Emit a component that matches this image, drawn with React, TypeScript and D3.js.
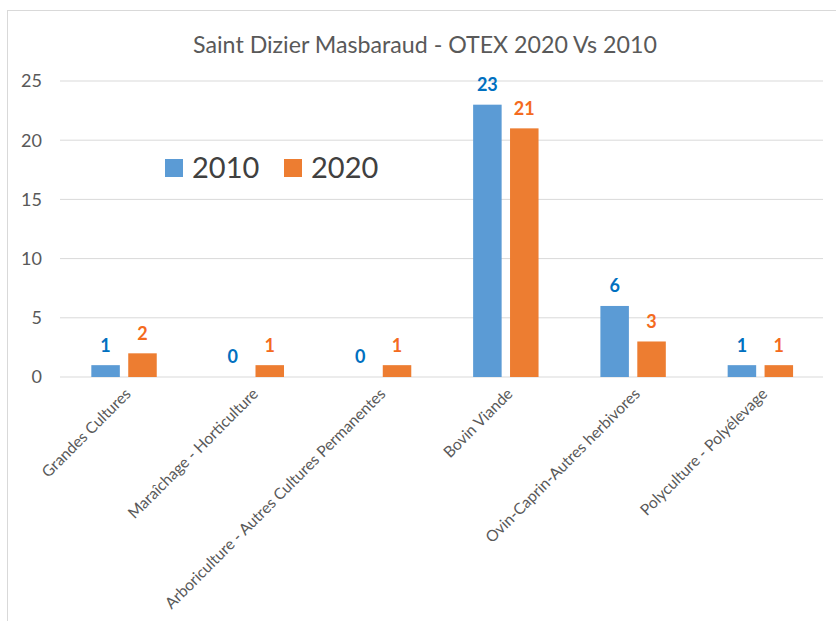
import React from "react";
import * as d3 from "d3";

const categories = [
  "Grandes Cultures",
  "Maraîchage - Horticulture",
  "Arboriculture - Autres Cultures Permanentes",
  "Bovin Viande",
  "Ovin-Caprin-Autres herbivores",
  "Polyculture - Polyélevage",
];
const values2010 = [1, 0, 0, 23, 6, 1];
const values2020 = [2, 1, 1, 21, 3, 1];
const seriesNames = ["2010", "2020"];
const yTicks = [0, 5, 10, 15, 20, 25];
const title = "Saint Dizier Masbaraud - OTEX 2020 Vs 2010";

const W = 836;
const H = 621;
const FONT = "Lato, 'Open Sans', sans-serif";
const barColors = ["#5B9BD5", "#ED7D31"];
const labelColors = ["#0070C0", "#F46B1E"];
const textGray = "#595959";

export default function App() {
  const x = d3.scaleBand<string>().domain(categories).range([60.4, 824]).padding(0);
  const y = d3.scaleLinear().domain([0, 25]).range([377, 81]);
  const step = x.bandwidth();
  const barW = step * 0.224;
  const gap = step * 0.066;
  const series = [values2010, values2020];

  return (
    <svg
      width={W}
      height={H}
      style={{ position: "absolute", left: 0, top: 0, background: "#fff" }}
      fontFamily={FONT}
    >
      <rect x={0} y={0} width={W} height={H} fill="#fff" />
      {/* frame */}
      <line x1={7} x2={W} y1={10.5} y2={10.5} stroke="#d9d9d9" />
      <line x1={7.5} x2={7.5} y1={10} y2={H} stroke="#d9d9d9" />

      <text x={425} y={53} textAnchor="middle" fontSize={23.2} fill={textGray}>
        {title}
      </text>

      {yTicks.map((t) => (
        <g key={t}>
          <line x1={60} x2={823} y1={y(t)} y2={y(t)} stroke="#d9d9d9" strokeWidth={1} />
          <text x={42} y={y(t)} dy="0.35em" textAnchor="end" fontSize={18} fill={textGray}>
            {t}
          </text>
        </g>
      ))}

      {categories.map((c, i) => {
        const cx = (x(c) as number) + step / 2;
        return (
          <g key={c}>
            {series.map((vals, s) => {
              const bx = s === 0 ? cx - gap / 2 - barW : cx + gap / 2;
              const v = vals[i];
              return (
                <g key={s}>
                  {v > 0 && (
                    <rect x={bx} y={y(v)} width={barW} height={y(0) - y(v)} fill={barColors[s]} />
                  )}
                  <text
                    x={bx + barW / 2}
                    y={y(v) - 20}
                    dy="0.36em"
                    textAnchor="middle"
                    fontSize={18}
                    fontWeight="bold"
                    fill={labelColors[s]}
                  >
                    {v}
                  </text>
                </g>
              );
            })}
            <text
              transform={`translate(${cx + 4},${391}) rotate(-45)`}
              textAnchor="end"
              dy="0.35em"
              fontSize={15.6}
              fill={textGray}
            >
              {c}
            </text>
          </g>
        );
      })}

      {/* legend */}
      {seriesNames.map((n, s) => {
        const lx = s === 0 ? 165 : 284;
        return (
          <g key={n}>
            <rect x={lx} y={159} width={18} height={18} fill={barColors[s]} />
            <text x={lx + 27} y={168} dy="0.36em" fontSize={29} fill="#404040">
              {n}
            </text>
          </g>
        );
      })}
    </svg>
  );
}
